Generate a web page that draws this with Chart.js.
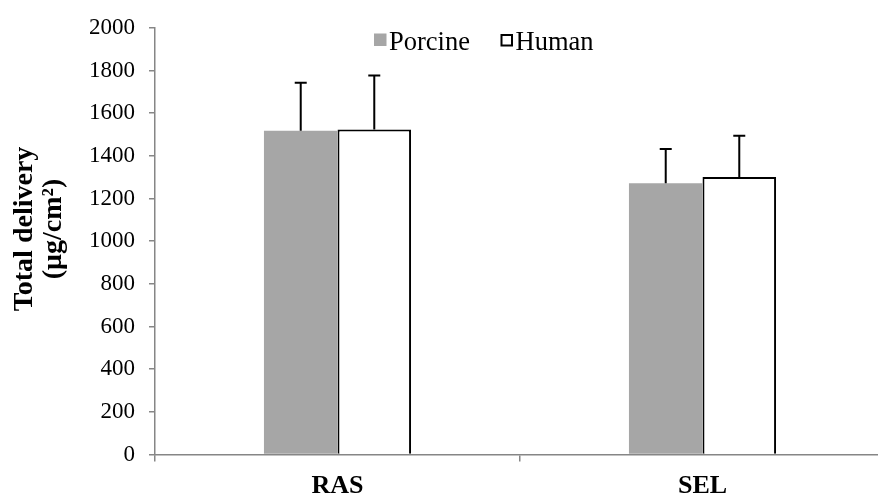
<!DOCTYPE html>
<html><head><meta charset="utf-8">
<script src="https://cdn.jsdelivr.net/npm/chart.js@4/dist/chart.umd.min.js"></script>
<style>html,body{margin:0;padding:0;background:#fff;overflow:hidden;width:878px;height:497px}canvas{display:block}</style>
</head><body>
<canvas id="c" width="886" height="497"></canvas>
<script>
const categories = ['RAS', 'SEL'];
const seriesNames = ['Porcine', 'Human'];
const porcine = [1517, 1271];
const human = [1523, 1301];
const porcineErr = [226, 161];
const humanErr = [254, 193];
const yTicks = [0, 200, 400, 600, 800, 1000, 1200, 1400, 1600, 1800, 2000];
const yTitle = ['Total delivery', '(\u03bcg/cm\u00b2)'];

const FONT = "'Liberation Serif', 'Times New Roman', serif";
const AXIS = '#868686';
const GREY = '#a6a6a6';
const errors = [porcineErr, humanErr];

const errorBars = {
  id: 'errorBars',
  afterDatasetsDraw(chart) {
    const ctx = chart.ctx, ys = chart.scales.y;
    ctx.save();
    ctx.strokeStyle = '#000';
    ctx.lineWidth = 2;
    chart.data.datasets.forEach((ds, i) => {
      const meta = chart.getDatasetMeta(i);
      meta.data.forEach((el, j) => {
        const top = ys.getPixelForValue(ds.data[j] + errors[i][j]);
        ctx.beginPath();
        ctx.moveTo(el.x, el.y);
        ctx.lineTo(el.x, top);
        ctx.moveTo(el.x - 6, top);
        ctx.lineTo(el.x + 6, top);
        ctx.stroke();
      });
    });
    ctx.restore();
  }
};

const customText = {
  id: 'customText',
  afterDraw(chart) {
    const ctx = chart.ctx;
    ctx.save();
    ctx.translate(0, 229);
    ctx.rotate(-Math.PI / 2);
    ctx.fillStyle = '#000';
    ctx.font = 'bold 28px ' + FONT;
    ctx.textAlign = 'center';
    ctx.textBaseline = 'alphabetic';
    ctx.fillText(yTitle[0], 0, 31.5);
    ctx.fillText(yTitle[1], 0, 61);
    ctx.restore();
    ctx.save();
    ctx.font = '26.5px ' + FONT;
    ctx.textBaseline = 'alphabetic';
    ctx.textAlign = 'left';
    const xs = [374, 500.5];
    chart.data.datasets.forEach((ds, i) => {
      const x = xs[i];
      if (i === 0) {
        ctx.fillStyle = ds.backgroundColor;
        ctx.fillRect(x, 33.5, 12.5, 12.5);
      } else {
        ctx.fillStyle = '#fff';
        ctx.fillRect(x, 34, 12.5, 12.5);
        ctx.strokeStyle = '#000';
        ctx.lineWidth = 2;
        ctx.strokeRect(x + 1, 35, 10.5, 10.5);
      }
      ctx.fillStyle = '#000';
      ctx.fillText(ds.label, x + 15, 50);
    });
    ctx.restore();
  }
};

new Chart(document.getElementById('c'), {
  type: 'bar',
  data: {
    labels: categories,
    datasets: [
      { label: seriesNames[0], data: porcine, backgroundColor: GREY, borderWidth: 0 },
      { label: seriesNames[1], data: human, backgroundColor: '#ffffff', borderColor: '#000', borderWidth: 2 }
    ]
  },
  options: {
    responsive: false,
    animation: false,
    events: [],
    layout: { padding: { top: 23.3, right: 1, left: 0, bottom: 0 } },
    datasets: { bar: { categoryPercentage: 0.403, barPercentage: 1 } },
    plugins: { legend: { display: false }, tooltip: { enabled: false } },
    scales: {
      x: {
        grid: { display: true, drawOnChartArea: false, offset: true, tickLength: 7, color: AXIS, lineWidth: 1.5 },
        border: { color: AXIS, width: 1.5 },
        ticks: { font: { family: FONT, size: 26, weight: 'bold' }, color: '#000', padding: 9 },
        afterFit(s) { s.height = 42.5; }
      },
      y: {
        min: yTicks[0],
        max: yTicks[yTicks.length - 1],
        afterBuildTicks(s) { s.ticks = yTicks.map(v => ({ value: v })); },
        grid: { drawOnChartArea: false, tickLength: 6, color: AXIS, lineWidth: 1.5 },
        border: { color: AXIS, width: 1.5 },
        ticks: { font: { family: FONT, size: 23 }, color: '#000', padding: 14, callback: v => String(v) },
        afterFit(s) { s.width = 155; }
      }
    }
  },
  plugins: [errorBars, customText]
});
</script>
</body></html>
